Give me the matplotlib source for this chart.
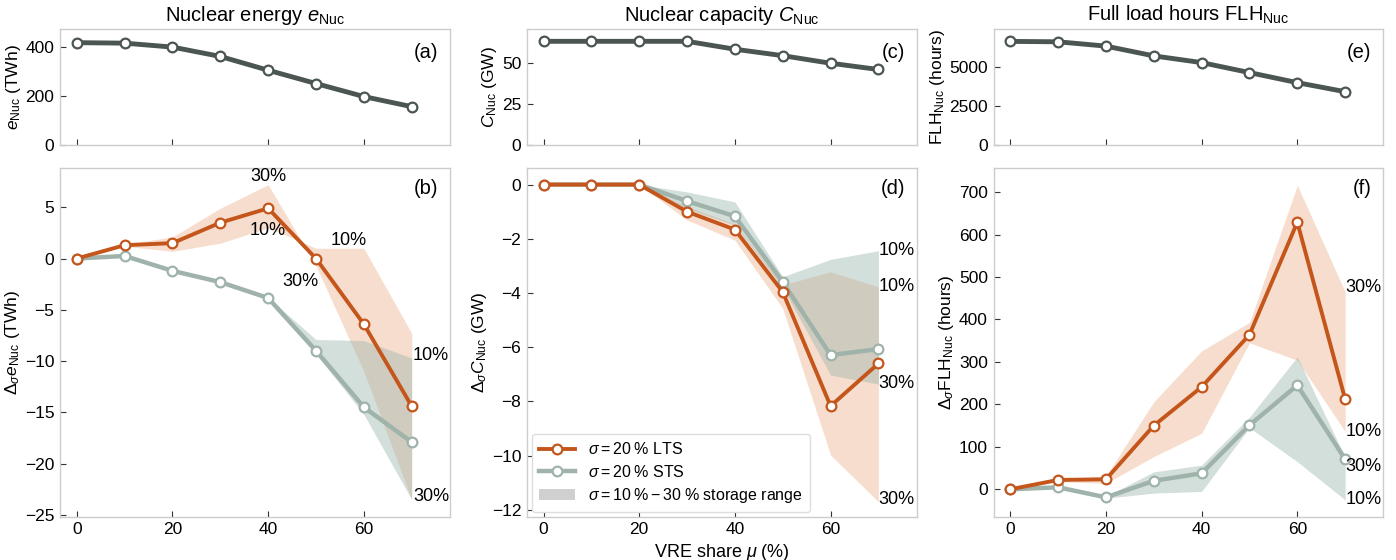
import matplotlib
matplotlib.use("Agg")
import matplotlib.pyplot as plt
from matplotlib.lines import Line2D
from matplotlib.patches import Patch

plt.rcParams['font.family'] = ['Liberation Sans', 'DejaVu Sans']
plt.rcParams['mathtext.fontset'] = 'custom'
plt.rcParams['mathtext.rm'] = 'Liberation Sans'
plt.rcParams['mathtext.it'] = 'Liberation Sans:italic'
plt.rcParams['mathtext.bf'] = 'Liberation Sans:bold'

# VRE share (%)
mu = [0, 10, 20, 30, 40, 50, 60, 70]

# top row: absolute values
e_nuc = [417, 415, 399, 361, 305, 251, 198, 157]
c_nuc = [63.1, 63.1, 63.1, 63.1, 58.3, 54.4, 49.8, 46.0]
flh_nuc = [6600, 6575, 6300, 5680, 5255, 4620, 3980, 3405]

# (b) change in nuclear energy
de_lts = [0, 1.3, 1.5, 3.5, 4.9, 0.0, -6.4, -14.4]
de_lts_10 = [0, 1.2, 0.7, 1.5, 3.0, 1.0, 1.0, -7.3]
de_lts_30 = [0, 1.4, 2.1, 4.9, 7.2, -0.7, -11.0, -23.5]
de_sts = [0, 0.25, -1.2, -2.3, -3.85, -9.0, -14.5, -17.9]
de_sts_10 = [0, 0.3, -1.2, -2.2, -3.8, -7.9, -8.0, -9.7]
de_sts_30 = [0, 0.2, -1.3, -2.4, -3.9, -9.3, -15.2, -23.5]

# (d) change in nuclear capacity
dc_lts = [0, 0, 0, -1.0, -1.66, -3.96, -8.17, -6.6]
dc_lts_10 = [0, 0, 0, -0.8, -1.45, -3.7, -3.22, -3.77]
dc_lts_30 = [0, 0, 0, -1.31, -2.05, -4.57, -9.98, -11.7]
dc_sts = [0, 0, 0, -0.61, -1.17, -3.59, -6.29, -6.07]
dc_sts_10 = [0, 0, 0, -0.27, -0.64, -3.4, -2.76, -2.44]
dc_sts_30 = [0, 0, 0, -0.9, -1.5, -3.8, -7.03, -7.36]

# (f) change in full load hours
dflh_lts = [0, 22, 23.5, 150, 241, 364, 629, 212]
dflh_lts_10 = [0, 18, 14, 77, 132, 345, 304, 136]
dflh_lts_30 = [0, 25, 31, 206, 326, 393, 716, 465]
dflh_sts = [0, 4.7, -19, 20, 37.6, 151, 245, 71]
dflh_sts_10 = [0, 3, -21, -9, -5, 145, 65, -25]
dflh_sts_30 = [0, 5, -17, 41, 57, 170, 312, 75]

dark = '#4b5551'
orange = '#c4561c'
grey = '#a0b3ab'
orange_fill = '#eeb491'
grey_fill = '#9fb8ae'

fig = plt.figure(figsize=(13.96, 5.6), dpi=100)
gs = fig.add_gridspec(2, 3, height_ratios=[1, 3], left=0.043, right=0.991,
                      top=0.948, bottom=0.077, wspace=0.197, hspace=0.099)
axes = [[fig.add_subplot(gs[r, c]) for c in range(3)] for r in range(2)]


def style(ax):
    for sp in ax.spines.values():
        sp.set_color('#cccccc')
        sp.set_linewidth(1.0)
    ax.tick_params(direction='in', length=4, width=0.8, color='#333333',
                   labelsize=12.5, pad=4)
    ax.set_xlim(-3.5, 78)
    ax.set_xticks([0, 20, 40, 60])


def top_plot(ax, y, ylim, yticks, ylabel, title, tag):
    style(ax)
    ax.plot(mu, y, color=dark, lw=3.5, marker='o', ms=7, mfc='white',
            mec=dark, mew=1.6)
    ax.set_ylim(*ylim)
    ax.set_yticks(yticks)
    ax.set_xticklabels([])
    ax.set_ylabel(ylabel, fontsize=12.5, labelpad=2)
    ax.set_title(title, fontsize=14.5, pad=6)
    ax.text(0.97, 0.88, tag, transform=ax.transAxes, ha='right', va='top', fontsize=14.5)


def bottom_plot(ax, lts, l10, l30, sts, s10, s30, ylim, yticks, ylabel, tag):
    style(ax)
    ax.fill_between(mu, l10, l30, color=orange_fill, alpha=0.45, lw=0)
    ax.fill_between(mu, s10, s30, color=grey_fill, alpha=0.45, lw=0)
    ax.plot(mu, sts, color=grey, lw=3.2, marker='o', ms=7, mfc='white',
            mec=grey, mew=1.6, zorder=3)
    ax.plot(mu, lts, color=orange, lw=2.8, marker='o', ms=7, mfc='white',
            mec=orange, mew=1.6, zorder=4)
    ax.set_ylim(*ylim)
    ax.set_yticks(yticks)
    ax.set_ylabel(ylabel, fontsize=12.5, labelpad=2)
    ax.text(0.97, 0.97, tag, transform=ax.transAxes, ha='right', va='top', fontsize=14.5)


top_plot(axes[0][0], e_nuc, (0, 472), [0, 200, 400], r'$e_{\mathrm{Nuc}}$ (TWh)',
         r'Nuclear energy $e_{\mathrm{Nuc}}$', '(a)')
top_plot(axes[0][1], c_nuc, (0, 70.5), [0, 25, 50], r'$C_{\mathrm{Nuc}}$ (GW)',
         r'Nuclear capacity $C_{\mathrm{Nuc}}$', '(c)')
top_plot(axes[0][2], flh_nuc, (0, 7380), [0, 2500, 5000], r'FLH$_{\mathrm{Nuc}}$ (hours)',
         r'Full load hours FLH$_{\mathrm{Nuc}}$', '(e)')

bottom_plot(axes[1][0], de_lts, de_lts_10, de_lts_30, de_sts, de_sts_10, de_sts_30,
            (-25.2, 8.8), [5, 0, -5, -10, -15, -20, -25],
            r'$\Delta_{\sigma}e_{\mathrm{Nuc}}$ (TWh)', '(b)')
bottom_plot(axes[1][1], dc_lts, dc_lts_10, dc_lts_30, dc_sts, dc_sts_10, dc_sts_30,
            (-12.26, 0.6), [0, -2, -4, -6, -8, -10, -12],
            r'$\Delta_{\sigma}C_{\mathrm{Nuc}}$ (GW)', '(d)')
bottom_plot(axes[1][2], dflh_lts, dflh_lts_10, dflh_lts_30, dflh_sts, dflh_sts_10, dflh_sts_30,
            (-65, 756), [0, 100, 200, 300, 400, 500, 600, 700],
            r'$\Delta_{\sigma}$FLH$_{\mathrm{Nuc}}$ (hours)', '(f)')

axes[1][1].set_xlabel(r'VRE share $\mu$ (%)', fontsize=13, labelpad=3)

# storage range annotations
ax = axes[1][0]
for x, y, s, ha in [(40, 8.0, '30%', 'center'), (40, 2.75, '10%', 'center'),
                    (56.8, 1.8, '10%', 'center'), (46.7, -2.2, '30%', 'center'),
                    (70.3, -9.5, '10%', 'left'), (70.3, -23.2, '30%', 'left')]:
    ax.text(x, y, s, ha=ha, va='center', fontsize=13)

ax = axes[1][1]
for y, s in [(-2.42, '10%'), (-3.77, '10%'), (-7.33, '30%'), (-11.63, '30%')]:
    ax.text(70.0, y, s, ha='left', va='center', fontsize=13)

ax = axes[1][2]
for y, s in [(476, '30%'), (136, '10%'), (53, '30%'), (-25, '10%')]:
    ax.text(70.1, y, s, ha='left', va='center', fontsize=13)

handles = [
    Line2D([], [], color=orange, lw=2.8, marker='o', ms=7, mfc='white', mec=orange, mew=1.6),
    Line2D([], [], color=grey, lw=3.2, marker='o', ms=7, mfc='white', mec=grey, mew=1.6),
    Patch(facecolor='#d0d0d0', edgecolor='none'),
]
labels = [r'$\sigma = 20\;\%$ LTS', r'$\sigma = 20\;\%$ STS',
          r'$\sigma = 10\;\% - 30\;\%$ storage range']
axes[1][1].legend(handles, labels, loc='lower left', fontsize=11.5, frameon=True,
                  edgecolor='#dddddd', framealpha=1, handlelength=2.3,
                  borderpad=0.45, labelspacing=0.4, borderaxespad=0.3)

fig.savefig('out.png', dpi=100)
